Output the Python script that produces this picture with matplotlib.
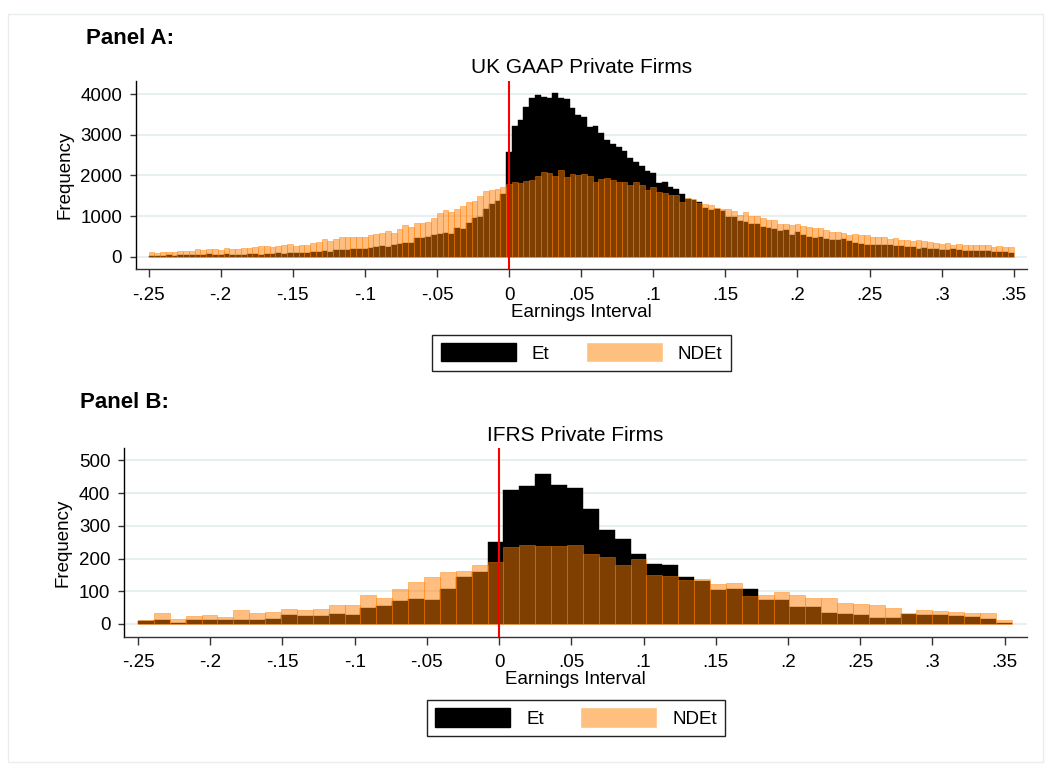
import matplotlib
matplotlib.use('Agg')
import matplotlib.pyplot as plt
import matplotlib.patches as mpatches
import numpy as np

plt.rcParams.update({
    'font.family': ['Liberation Sans', 'DejaVu Sans'],
    'axes.unicode_minus': False,
})

# ---------------------------------------------------------------------------
# Data (counts per earnings interval bin)
# ---------------------------------------------------------------------------
# Panel A: UK GAAP private firms, 150 bins of width .004 from -.25 to .35
edges_a = np.linspace(-0.25, 0.35, 151)
et_a = [
    25, 15, 25, 50, 20, 35, 50, 50, 50, 50,
    65, 40, 50, 75, 50, 50, 50, 75, 75, 50,
    75, 75, 100, 75, 85, 100, 100, 100, 125, 125,
    140, 115, 165, 165, 165, 190, 190, 190, 205, 245,
    270, 245, 295, 310, 335, 335, 460, 460, 490, 525,
    565, 580, 570, 705, 680, 830, 960, 985, 1180, 1305,
    1370, 1540, 2580, 3215, 3360, 3675, 3895, 3975, 3935, 3910,
    4020, 3910, 3880, 3650, 3495, 3440, 3190, 3215, 3050, 2870,
    2780, 2690, 2600, 2425, 2335, 2230, 2115, 2060, 1810, 1835,
    1715, 1665, 1540, 1420, 1395, 1335, 1195, 1150, 1170, 1125,
    975, 975, 885, 850, 805, 805, 730, 705, 680, 630,
    655, 535, 605, 535, 485, 460, 485, 435, 410, 410,
    435, 385, 335, 310, 285, 285, 285, 285, 285, 260,
    260, 240, 240, 190, 215, 190, 190, 165, 165, 190,
    165, 140, 140, 140, 140, 140, 115, 115, 115, 100,
]
ndet_a = [
    107, 90, 115, 115, 115, 130, 140, 140, 190, 165,
    190, 190, 165, 215, 190, 190, 215, 215, 230, 255,
    265, 240, 270, 290, 310, 265, 300, 290, 335, 360,
    425, 385, 435, 485, 485, 485, 485, 485, 535, 565,
    590, 630, 580, 680, 780, 730, 830, 830, 850, 950,
    1075, 1150, 1110, 1170, 1240, 1345, 1370, 1490, 1615, 1640,
    1655, 1705, 1790, 1835, 1810, 1860, 1885, 1985, 2075, 2050,
    1985, 2130, 1960, 2035, 2010, 2035, 1985, 1835, 1910, 1935,
    1885, 1835, 1835, 1765, 1835, 1765, 1640, 1715, 1590, 1565,
    1515, 1515, 1355, 1450, 1410, 1310, 1295, 1270, 1195, 1170,
    1170, 1125, 1025, 1100, 1000, 1000, 950, 900, 900, 805,
    805, 780, 805, 755, 730, 705, 705, 655, 605, 605,
    580, 535, 560, 535, 535, 485, 485, 485, 435, 460,
    410, 410, 385, 410, 385, 360, 335, 310, 335, 285,
    310, 285, 285, 285, 285, 285, 240, 260, 240, 240,
]

# Panel B: IFRS private firms, 55 bins of width .011 from -.25 to .355
edges_b = np.linspace(-0.25, 0.355, 56)
et_b = [
    10, 12, 4, 12, 12, 12, 12, 12, 15, 29,
    25, 25, 31, 29, 49, 56, 71, 77, 73, 107,
    144, 160, 251, 410, 422, 459, 425, 416, 352, 288,
    260, 214, 184, 181, 144, 132, 104, 107, 107, 73,
    73, 52, 52, 34, 31, 28, 18, 18, 31, 28,
    28, 25, 21, 15, 3,
]
ndet_b = [
    12, 34, 15, 25, 27, 22, 43, 34, 37, 46,
    43, 45, 58, 58, 89, 78, 107, 128, 144, 160,
    162, 180, 190, 236, 242, 237, 239, 242, 214, 205,
    179, 199, 150, 147, 135, 138, 122, 125, 86, 89,
    98, 88, 80, 80, 64, 62, 58, 49, 30, 43,
    40, 37, 34, 34, 12,
]

xticks = [-0.25, -0.2, -0.15, -0.1, -0.05, 0, 0.05, 0.1, 0.15, 0.2, 0.25, 0.3, 0.35]
xtick_labels = ['-.25', '-.2', '-.15', '-.1', '-.05', '0', '.05', '.1',
                '.15', '.2', '.25', '.3', '.35']

# ---------------------------------------------------------------------------
# Style
# ---------------------------------------------------------------------------
COLOR_ET = '#000000'
COLOR_NDET = '#FF7F00'
COLOR_NDET_KEY = '#FFBF7F'
COLOR_GRID = '#E6EEF0'
COLOR_AXIS = '#333333'
W, H = 1051, 774

fig = plt.figure(figsize=(W / 100, H / 100), dpi=100)
fig.patch.set_facecolor('white')

# light outer frame of the graph region
fig.add_artist(mpatches.Rectangle((8 / W, 1 - 762 / H), 1035 / W, 748 / H,
                                  transform=fig.transFigure, fill=False,
                                  edgecolor='#E8EEF0', linewidth=1))


def px_axes(left, top, right, bottom):
    return fig.add_axes([left / W, 1 - bottom / H, (right - left) / W,
                         (bottom - top) / H])


def panel(ax, edges, et, ndet, title, yticks, ylim, xlim):
    left = edges[:-1]
    width = np.diff(edges)
    ax.bar(left, et, width=width, align='edge', color=COLOR_ET,
           edgecolor=COLOR_ET, linewidth=0.3, zorder=2)
    ax.bar(left, ndet, width=width, align='edge', color=COLOR_NDET,
           edgecolor=COLOR_NDET, linewidth=0.6, alpha=0.5, zorder=3)
    ax.axvline(0, color='red', linewidth=1.5, zorder=4)

    ax.set_xlim(*xlim)
    ax.set_ylim(*ylim)
    ax.set_xticks(xticks)
    ax.set_xticklabels(xtick_labels)
    ax.set_yticks(yticks)
    ax.set_yticklabels([str(v) for v in yticks])
    ax.yaxis.grid(True, color=COLOR_GRID, linewidth=1.3, zorder=0)
    ax.set_axisbelow(True)

    for side in ('top', 'right'):
        ax.spines[side].set_visible(False)
    ax.spines['left'].set_color('black')
    ax.spines['bottom'].set_color(COLOR_AXIS)
    ax.spines['left'].set_linewidth(1.0)
    ax.spines['bottom'].set_linewidth(1.0)
    ax.tick_params(axis='x', direction='out', length=5.8, width=1.0,
                   color=COLOR_AXIS, pad=7, labelsize=13.5)
    ax.tick_params(axis='y', direction='out', length=4, width=1.0,
                   color=COLOR_AXIS, pad=6, labelsize=13.5)

    ax.set_title(title, fontsize=15, pad=5.5)
    ax.set_xlabel('Earnings Interval', fontsize=13.5, labelpad=0)
    ax.set_ylabel('Frequency', fontsize=13.5, labelpad=5)

    handles = [mpatches.Patch(facecolor=COLOR_ET, edgecolor=COLOR_ET, label='Et'),
               mpatches.Patch(facecolor=COLOR_NDET_KEY, edgecolor='#FFC890',
                              linewidth=0.6, label='NDEt')]
    return handles


# Panel A
ax_a = px_axes(136, 81, 1027, 269)
h = panel(ax_a, edges_a, et_a, ndet_a, 'UK GAAP Private Firms',
          [0, 1000, 2000, 3000, 4000], (-302, 4320), (-0.2587, 0.3592))
fig.legend(handles=h, loc='upper center', ncol=2,
           bbox_to_anchor=(581.5 / W, 1 - 334.7 / H),
           fontsize=13.5, handlelength=4.0, handleheight=1.12,
           handletextpad=0.85, columnspacing=2.0, borderpad=0.45,
           borderaxespad=0, fancybox=False, framealpha=1,
           edgecolor='#222222')
fig.text(86 / W, 1 - 39 / H, 'Panel A:', fontsize=16, fontweight='bold',
         ha='left', va='center')

# Panel B
ax_b = px_axes(124.3, 448.3, 1026.7, 636.7)
h = panel(ax_b, edges_b, et_b, ndet_b, 'IFRS Private Firms',
          [0, 100, 200, 300, 400, 500], (-38.8, 536.6), (-0.2595, 0.3653))
fig.legend(handles=h, loc='upper center', ncol=2,
           bbox_to_anchor=(576 / W, 1 - 700 / H),
           fontsize=13.5, handlelength=4.0, handleheight=1.12,
           handletextpad=0.85, columnspacing=2.0, borderpad=0.45,
           borderaxespad=0, fancybox=False, framealpha=1,
           edgecolor='#222222')
fig.text(80 / W, 1 - 403 / H, 'Panel B:', fontsize=16, fontweight='bold',
         ha='left', va='center')

fig.savefig('out.png', dpi=100, facecolor='white')
plt.close(fig)
